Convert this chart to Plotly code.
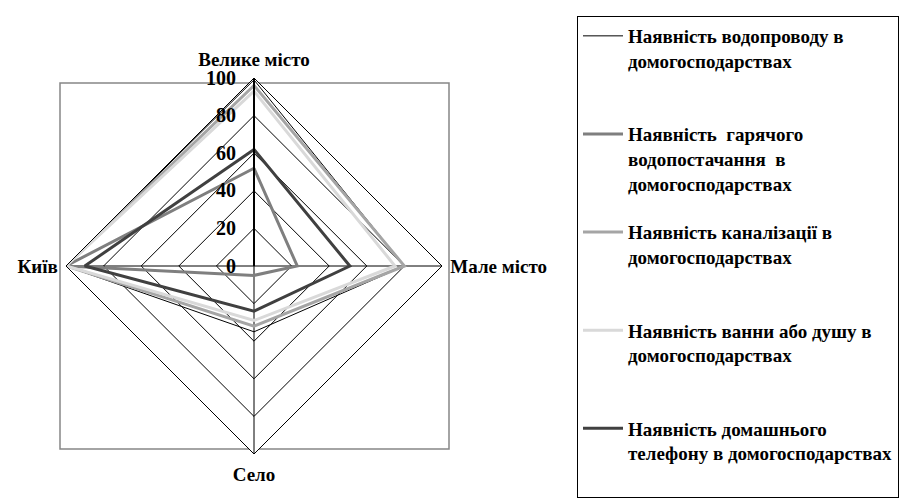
import plotly.graph_objects as go

categories = ["Велике місто", "Мале місто", "Село", "Київ"]

series_names = [
    "Наявність водопроводу в<br>домогосподарствах",
    "Наявність  гарячого<br>водопостачання  в<br>домогосподарствах",
    "Наявність каналізації в<br>домогосподарствах",
    "Наявність ванни або душу в<br>домогосподарствах",
    "Наявність домашнього<br>телефону в домогосподарствах",
]

water = [99, 80, 35, 100]
hot_water = [52, 23, 5, 100]
sewer = [96, 80, 32, 100]
bath = [93, 75, 29, 100]
phone = [62, 51, 24, 90]

radial_ticks = [0, 20, 40, 60, 80, 100]

colors = ["#000000", "#7f7f7f", "#a5a5a5", "#d9d9d9", "#404040"]
widths = [1, 3, 3, 3, 3]

# the page body has an 8px margin, so work in screen pixels minus 8
OFF = 8
W, H = 909 - OFF, 498 - OFF
FONT = "Liberation Serif"


def xp(px):
    return (px - OFF) / W


def yp(py):
    return 1 - (py - OFF) / H


fig = go.Figure()

for i, (name, vals, col, w) in enumerate(
    zip(series_names, [water, hot_water, sewer, bath, phone], colors, widths)
):
    n_lines = name.count("<br>") + 1
    label = name + "<br> " * (3 - n_lines)
    fig.add_trace(
        go.Scatterpolar(
            r=vals + vals[:1],
            theta=categories + categories[:1],
            mode="lines",
            name=label,
            legendgroup=f"g{i}",
            line=dict(color=col, width=w),
        )
    )

cx, cy, rad = 254, 266, 188
fig.update_layout(
    width=W,
    height=H,
    margin=dict(l=0, r=0, t=0, b=0),
    paper_bgcolor="white",
    font=dict(family=FONT, size=19, color="black", weight="bold"),
    polar=dict(
        domain=dict(x=[xp(cx - rad), xp(cx + rad)], y=[yp(cy + rad), yp(cy - rad)]),
        gridshape="linear",
        bgcolor="white",
        radialaxis=dict(
            range=[0, 100],
            tickvals=radial_ticks,
            angle=90,
            tickangle=90,
            side="counterclockwise",
            showline=True,
            linecolor="black",
            linewidth=2,
            gridcolor="black",
            gridwidth=1,
            ticks="outside",
            ticklen=10,
            tickcolor="rgba(0,0,0,0)",
            tickfont=dict(family=FONT, size=20, color="black", weight="bold"),
        ),
        angularaxis=dict(
            direction="clockwise",
            rotation=90,
            showline=True,
            linecolor="black",
            linewidth=1,
            gridcolor="black",
            gridwidth=1,
            ticks="outside",
            ticklen=4,
            tickcolor="rgba(0,0,0,0)",
            tickfont=dict(family=FONT, size=19, color="black", weight="bold"),
        ),
    ),
    legend=dict(
        x=xp(577),
        y=yp(17),
        xanchor="left",
        yanchor="top",
        bordercolor="black",
        borderwidth=1,
        valign="top",
        tracegroupgap=21,
        font=dict(family=FONT, size=19, color="black", weight="bold"),
        itemwidth=40,
    ),
    shapes=[
        dict(
            type="rect",
            xref="paper",
            yref="paper",
            x0=xp(60),
            x1=xp(449),
            y0=yp(449),
            y1=yp(83),
            line=dict(color="#868686", width=1.5),
            layer="below",
        )
    ],
)

fig.write_html("out.html")
